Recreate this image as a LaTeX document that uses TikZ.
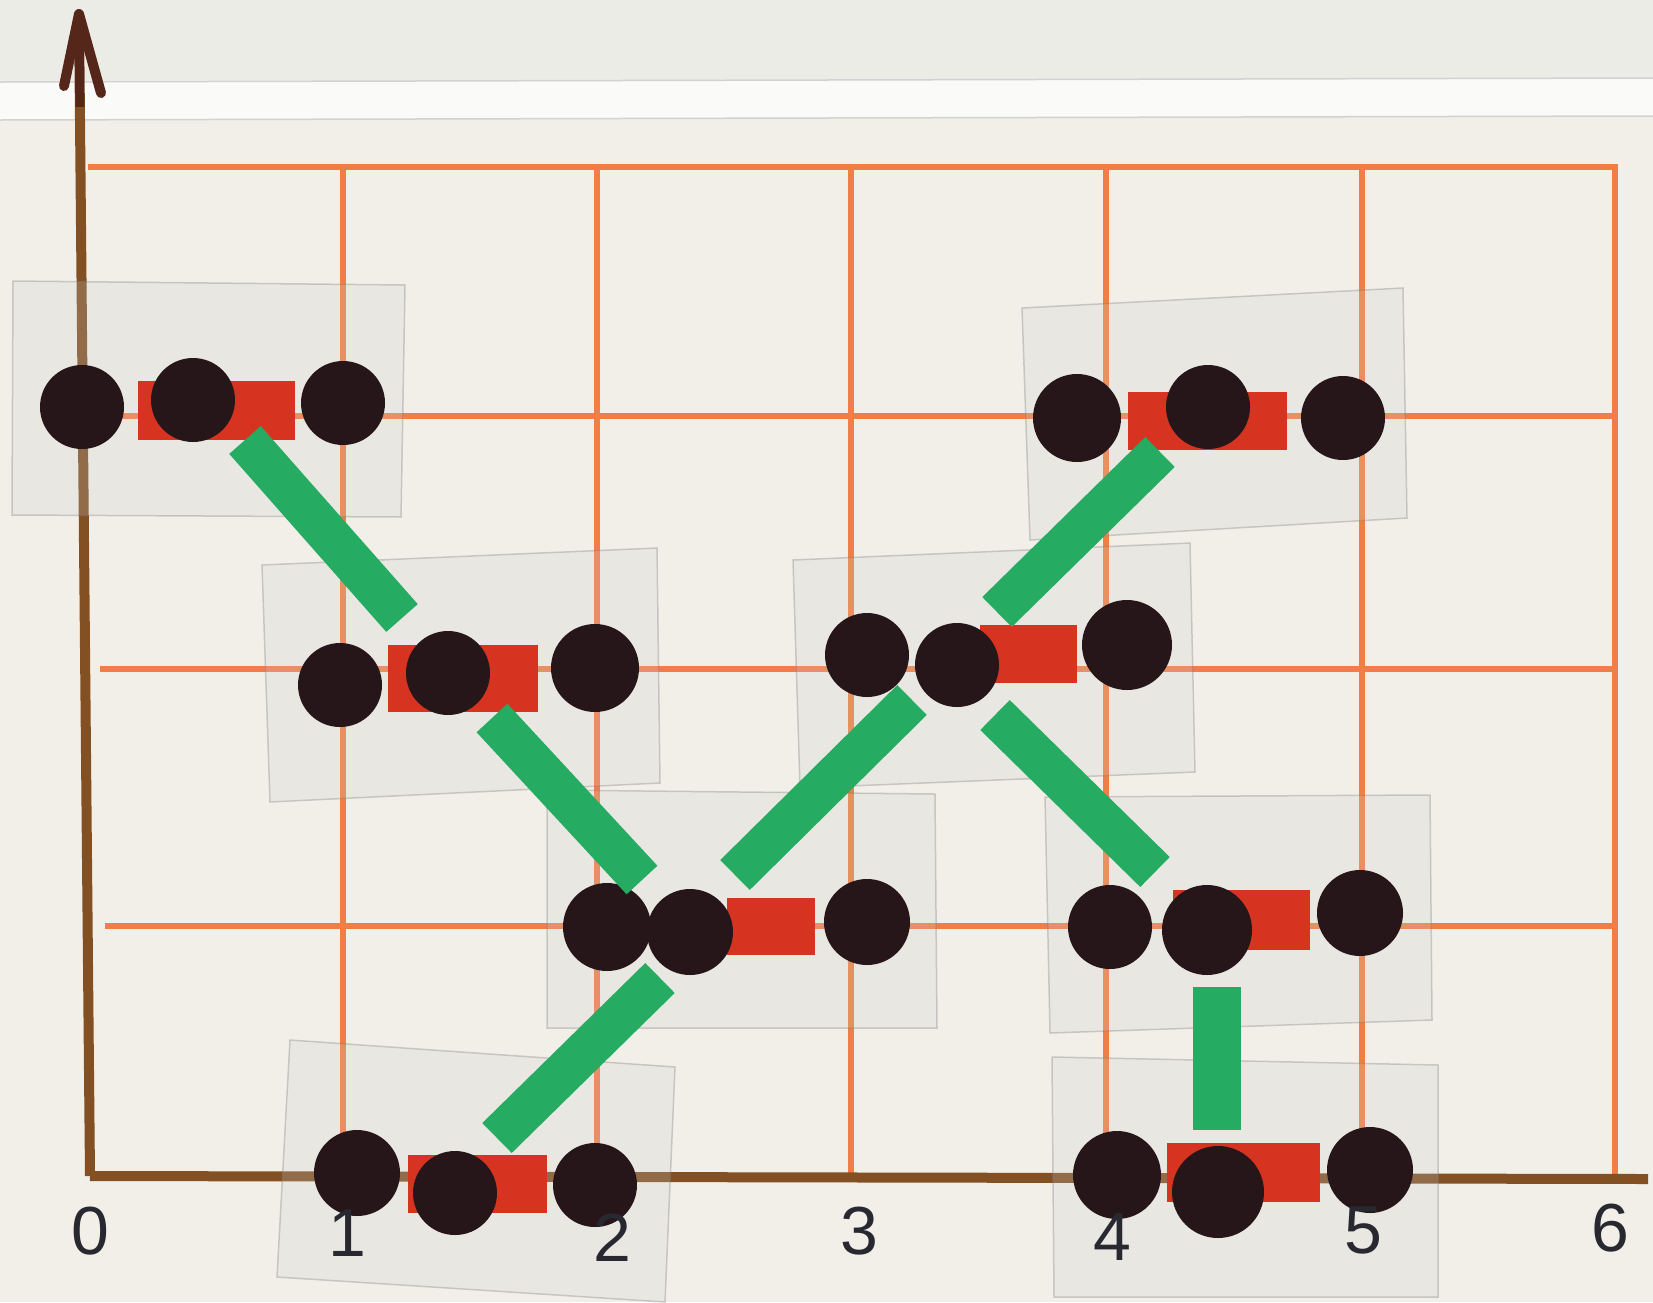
\documentclass[tikz,border=0pt]{standalone}
\usepackage{fontspec}
\setmainfont{Liberation Sans}
\usetikzlibrary{calc}
\definecolor{paper}{RGB}{241,239,231}
\definecolor{paperTop}{RGB}{236,236,231}
\definecolor{band}{RGB}{250,250,248}
\definecolor{gridorange}{RGB}{240,126,70}
\definecolor{axisbrown}{RGB}{130,80,35}
\definecolor{axisdark}{RGB}{85,38,26}
\definecolor{beadblack}{RGB}{38,22,26}
\definecolor{barred}{RGB}{214,52,32}
\definecolor{stickgreen}{RGB}{38,172,98}
\definecolor{slidegray}{RGB}{205,207,208}
\definecolor{ink}{RGB}{40,40,48}
\begin{document}
\begin{tikzpicture}[x=1pt,y=-1pt,
  gridline/.style={draw=gridorange, line width=5.5pt},
  axisline/.style={draw=axisbrown, line width=10pt},
  slide/.style={fill=slidegray, fill opacity=0.22, draw=gray, draw opacity=0.35, line width=1.5pt},
  bead/.style={fill=beadblack},
  barpiece/.style={fill=barred},
  stick/.style={draw=stickgreen, line width=42pt},
  numlabel/.style={font=\fontsize{68}{68}\selectfont, text=ink}]
\useasboundingbox (0,0) rectangle (1653,1302);
% paper
\fill[paper] (0,0) rectangle (1653,1302);
\fill[paperTop] (0,0) rectangle (1653,80);
\fill[band] (0,82) -- (1653,78) -- (1653,116) -- (0,120) -- cycle;
\draw[gray!35, line width=1.5pt] (0,82) -- (1653,78);
\draw[gray!35, line width=1.5pt] (0,120) -- (1653,116);
% grid
\draw[gridline] (88,167) -- (1618,167);
\draw[gridline] (95,416) -- (1615,416);
\draw[gridline] (100,669) -- (1615,669);
\draw[gridline] (105,926) -- (1615,926);
\foreach \gx in {343,597,851,1106,1362,1615}
  \draw[gridline] (\gx,167) -- (\gx,1176);
% axes
\coordinate (origin) at (90,1176);
\coordinate (ytop) at (79,14);
\coordinate (xend) at (1648,1179);
\draw[axisline] (origin) -- (ytop);
\draw[axisline] (origin) -- (xend);
\draw[axisdark, line width=9pt] ($(ytop)!0.08!(origin)$) -- (ytop);
\draw[axisdark, line width=10pt, line cap=round] (ytop) -- (64,86);
\draw[axisdark, line width=10pt, line cap=round] (ytop) -- (101,93);
% slides
\draw[slide] (13,281) -- (405,285) -- (401,517) -- (12,515) -- cycle;
\draw[slide] (262,565) -- (657,548) -- (660,783) -- (270,802) -- cycle;
\draw[slide] (547,790) -- (935,794) -- (937,1028) -- (547,1028) -- cycle;
\draw[slide] (290,1040) -- (675,1067) -- (665,1302) -- (277,1277) -- cycle;
\draw[slide] (793,560) -- (1190,543) -- (1195,772) -- (800,788) -- cycle;
\draw[slide] (1022,308) -- (1403,288) -- (1407,518) -- (1030,540) -- cycle;
\draw[slide] (1045,797) -- (1430,795) -- (1432,1020) -- (1050,1033) -- cycle;
\draw[slide] (1052,1057) -- (1438,1065) -- (1438,1297) -- (1054,1297) -- cycle;
% red bars
\fill[barpiece] (138,381) rectangle (295,440);
\fill[barpiece] (388,645) rectangle (538,712);
\fill[barpiece] (727,898) rectangle (815,955);
\fill[barpiece] (408,1155) rectangle (547,1213);
\fill[barpiece] (980,625) rectangle (1077,683);
\fill[barpiece] (1128,392) rectangle (1287,450);
\fill[barpiece] (1173,890) rectangle (1310,950);
\fill[barpiece] (1167,1143) rectangle (1320,1202);
% beads
\foreach \bx/\by/\br in {82/407/42, 193/400/42, 343/403/42,
  340/685/42, 448/673/42, 595/668/44,
  607/927/44, 690/932/43, 867/922/43,
  357/1173/43, 455/1193/42, 595/1185/42,
  867/655/42, 957/665/42, 1127/645/45,
  1077/418/44, 1208/407/42, 1343/418/42,
  1110/927/42, 1207/930/45, 1360/913/43,
  1117/1175/44, 1218/1192/46, 1370/1170/43}
  \fill[bead] (\bx,\by) circle[radius=\br pt];
% green sticks
\coordinate (g1a) at (245,440); \coordinate (g1b) at (402,618);
\coordinate (g2a) at (492,718); \coordinate (g2b) at (642,880);
\coordinate (g3a) at (735,875); \coordinate (g3b) at (912,700);
\coordinate (g4a) at (997,612); \coordinate (g4b) at (1160,452);
\coordinate (g5a) at (995,715); \coordinate (g5b) at (1155,872);
\coordinate (g6a) at (1217,987); \coordinate (g6b) at (1217,1130);
\coordinate (g7a) at (660,978); \coordinate (g7b) at (497,1138);
\draw[stick] (g1a) -- (g1b);
\draw[stick] (g2a) -- (g2b);
\draw[stick] (g3a) -- (g3b);
\draw[stick] (g4a) -- (g4b);
\draw[stick] (g5a) -- (g5b);
\draw[stick, line width=48pt] (g6a) -- (g6b);
\draw[stick] (g7a) -- (g7b);
% labels
\node[numlabel] (n0) at (90,1231) {0};
\node[numlabel] (n1) at (347,1233) {1};
\node[numlabel] (n2) at (612,1238) {2};
\node[numlabel] (n3) at (859,1231) {3};
\node[numlabel] (n4) at (1112,1237) {4};
\node[numlabel] (n5) at (1363,1230) {5};
\node[numlabel] (n6) at (1610,1228) {6};
\end{tikzpicture}
\end{document}
